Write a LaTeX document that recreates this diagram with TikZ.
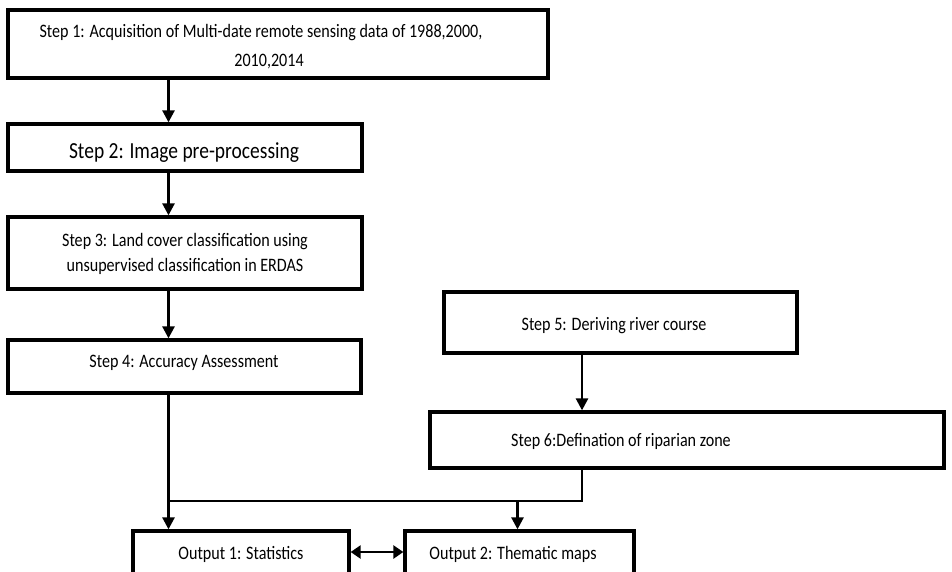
\documentclass[tikz,border=0pt]{standalone}
\usepackage{fontspec}
\setmainfont{Carlito}
\usepackage{graphicx}
\usetikzlibrary{arrows.meta,calc}
\newcommand{\sq}[1]{\scalebox{0.847}[1]{#1}}
\tikzset{
  box/.style={draw, line width=3.3pt, inner sep=0pt, anchor=center},
  lbl/.style={anchor=base, inner sep=0pt, font=\fontsize{19}{22}\selectfont},
  biglbl/.style={anchor=base, inner sep=0pt, font=\fontsize{23}{27}\selectfont},
  conn/.style={line width=2.6pt},
  arr/.style={line width=2.6pt, -{Triangle[length=12pt,width=12pt]}},
  darr/.style={line width=2.6pt, {Triangle[length=10pt,width=13pt]}-{Triangle[length=10pt,width=13pt]}}
}
\begin{document}
\begin{tikzpicture}[x=1pt,y=-1pt]
\useasboundingbox (0,0) rectangle (952,571);
\clip (0,0) rectangle (952,571);
\fill[white] (0,0) rectangle (952,571);
% boxes
\node[box, minimum width=540pt, minimum height=68pt] (b1) at (278,44) {};
\node[box, minimum width=354pt, minimum height=47pt] (b2) at (185,147.5) {};
\node[box, minimum width=354pt, minimum height=72pt] (b3) at (185,253) {};
\node[box, minimum width=353pt, minimum height=53pt] (b4) at (184.5,366.5) {};
\node[box, minimum width=353pt, minimum height=61pt] (b5) at (620.5,322.5) {};
\node[box, minimum width=514pt, minimum height=56pt] (b6) at (687,440) {};
\node[box, minimum width=216pt, minimum height=70pt] (o1) at (241,566) {};
\node[box, minimum width=229pt, minimum height=70pt] (o2) at (519.5,566) {};
% texts
\node[lbl] (t1a) at (261,37.3) {\sq{Step 1: Acquisition of Multi-date remote sensing data of 1988,2000,}};
\node[lbl] (t1b) at (269,66) {\sq{2010,2014}};
\node[biglbl] (t2) at (184,158) {\sq{Step 2: Image pre-processing}};
\node[lbl] (t3a) at (185,246.5) {\sq{Step 3: Land cover classification using}};
\node[lbl] (t3b) at (185,271.5) {\sq{unsupervised classification in ERDAS}};
\node[lbl] (t4) at (184,367.5) {\sq{Step 4: Accuracy Assessment}};
\node[lbl] (t5) at (614,330.5) {\sq{Step 5: Deriving river course}};
\node[lbl] (t6) at (621,446.5) {\sq{Step 6:Defination of riparian zone}};
\node[lbl] (to1) at (241,559) {\sq{Output 1: Statistics}};
\node[lbl] (to2) at (513,559) {\sq{Output 2: Thematic maps}};
% connector coordinates
\coordinate (cL) at (168.5,0);
\coordinate (cR) at (582,0);
\coordinate (cM) at (517.5,0);
\coordinate (jy) at (0,501);
% connectors
\draw[arr] (b1.south -| cL) -- (b2.north -| cL);
\draw[arr] (b2.south -| cL) -- (b3.north -| cL);
\draw[arr] (b3.south -| cL) -- (b4.north -| cL);
\draw[arr] (b4.south -| cL) -- (o1.north -| cL);
\draw[arr] (b5.south -| cR) -- (b6.north -| cR);
\draw[conn] (b6.south -| cR) -- (jy -| cR) -- (jy -| cL);
\draw[arr] (jy -| cM) -- (o2.north -| cM);
\draw[darr] ($(o1.east)+(0,-14)$) -- ($(o2.west)+(0,-14)$);
\end{tikzpicture}
\end{document}
